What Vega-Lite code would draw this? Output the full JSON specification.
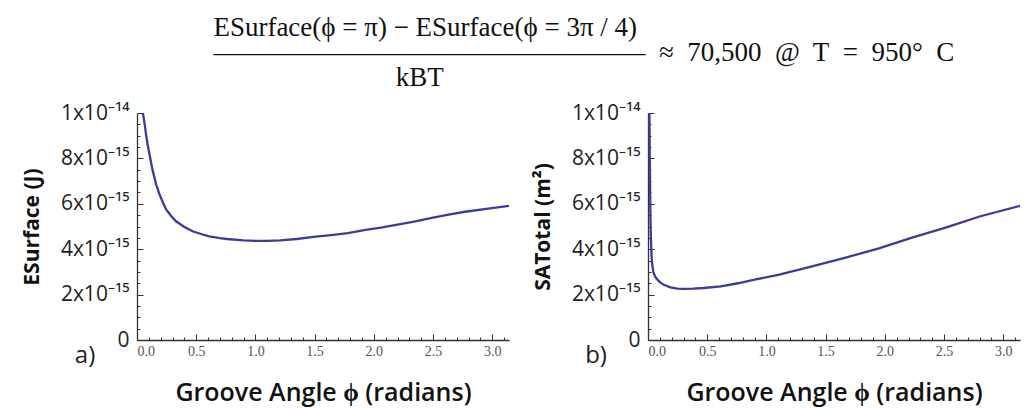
{
  "$schema": "https://vega.github.io/schema/vega-lite/v6.json",
  "background": "white",
  "padding": {"left": 21, "top": 14, "right": 4, "bottom": 2},
  "spacing": 23,
  "title": {
    "text": [
      "ESurface(ϕ = π) − ESurface(ϕ = 3π / 4)",
      "————————————————\u00a0 ≈\u00a0 70,500\u00a0 @\u00a0 T\u00a0 =\u00a0 950°\u00a0 C",
      "\u200b\u00a0\u00a0\u00a0\u00a0\u00a0\u00a0\u00a0\u00a0\u00a0\u00a0\u00a0\u00a0\u00a0\u00a0\u00a0\u00a0\u00a0\u00a0\u00a0\u00a0\u00a0\u00a0\u00a0\u00a0\u00a0\u00a0\u00a0kBT"
    ],
    "font": "Liberation Serif",
    "fontSize": 27,
    "fontWeight": "normal",
    "color": "#111",
    "anchor": "start",
    "frame": "bounds",
    "dx": 192,
    "lineHeight": 25,
    "offset": 10
  },
  "datasets": {
    "surface": [
      {"phi": 0.05, "E": 1.0e-14},
      {"phi": 0.065, "E": 9.5e-15},
      {"phi": 0.076, "E": 9.07e-15},
      {"phi": 0.09, "E": 8.6e-15},
      {"phi": 0.105, "E": 8.19e-15},
      {"phi": 0.12, "E": 7.8e-15},
      {"phi": 0.133, "E": 7.45e-15},
      {"phi": 0.15, "E": 7.1e-15},
      {"phi": 0.161, "E": 6.86e-15},
      {"phi": 0.19, "E": 6.42e-15},
      {"phi": 0.22, "E": 6.05e-15},
      {"phi": 0.246, "E": 5.75e-15},
      {"phi": 0.29, "E": 5.45e-15},
      {"phi": 0.33, "E": 5.23e-15},
      {"phi": 0.4, "E": 4.98e-15},
      {"phi": 0.47, "E": 4.79e-15},
      {"phi": 0.54, "E": 4.67e-15},
      {"phi": 0.61, "E": 4.57e-15},
      {"phi": 0.7, "E": 4.49e-15},
      {"phi": 0.76, "E": 4.45e-15},
      {"phi": 0.9, "E": 4.39e-15},
      {"phi": 1.0, "E": 4.37e-15},
      {"phi": 1.1, "E": 4.37e-15},
      {"phi": 1.21, "E": 4.39e-15},
      {"phi": 1.35, "E": 4.45e-15},
      {"phi": 1.49, "E": 4.54e-15},
      {"phi": 1.64, "E": 4.62e-15},
      {"phi": 1.78, "E": 4.71e-15},
      {"phi": 1.93, "E": 4.85e-15},
      {"phi": 2.06, "E": 4.95e-15},
      {"phi": 2.2, "E": 5.08e-15},
      {"phi": 2.34, "E": 5.22e-15},
      {"phi": 2.49, "E": 5.38e-15},
      {"phi": 2.63, "E": 5.52e-15},
      {"phi": 2.77, "E": 5.65e-15},
      {"phi": 2.95, "E": 5.78e-15},
      {"phi": 3.1416, "E": 5.91e-15}
    ],
    "area": [
      {"phi": 0.012, "SA": 1.0e-14},
      {"phi": 0.015, "SA": 8.0e-15},
      {"phi": 0.018, "SA": 6.5e-15},
      {"phi": 0.021, "SA": 5.3e-15},
      {"phi": 0.025, "SA": 4.4e-15},
      {"phi": 0.03, "SA": 3.7e-15},
      {"phi": 0.036, "SA": 3.3e-15},
      {"phi": 0.045, "SA": 3.0e-15},
      {"phi": 0.06, "SA": 2.8e-15},
      {"phi": 0.076, "SA": 2.68e-15},
      {"phi": 0.1, "SA": 2.55e-15},
      {"phi": 0.133, "SA": 2.43e-15},
      {"phi": 0.19, "SA": 2.32e-15},
      {"phi": 0.246, "SA": 2.26e-15},
      {"phi": 0.3, "SA": 2.25e-15},
      {"phi": 0.38, "SA": 2.26e-15},
      {"phi": 0.47, "SA": 2.29e-15},
      {"phi": 0.615, "SA": 2.36e-15},
      {"phi": 0.76, "SA": 2.5e-15},
      {"phi": 0.9, "SA": 2.66e-15},
      {"phi": 1.1, "SA": 2.87e-15},
      {"phi": 1.385, "SA": 3.24e-15},
      {"phi": 1.67, "SA": 3.63e-15},
      {"phi": 1.95, "SA": 4.04e-15},
      {"phi": 2.23, "SA": 4.51e-15},
      {"phi": 2.52, "SA": 4.96e-15},
      {"phi": 2.8, "SA": 5.44e-15},
      {"phi": 3.1416, "SA": 5.91e-15}
    ]
  },
  "config": {
    "view": {"stroke": null},
    "axis": {
      "domainColor": "#333",
      "domainWidth": 1.3,
      "tickColor": "#333",
      "grid": false
    }
  },
  "hconcat": [
    {
      "width": 372,
      "height": 227,
      "layer": [
        {
          "data": {"name": "surface"},
          "mark": {"type": "line", "opacity": 0},
          "encoding": {
            "x": {"field": "phi", "type": "quantitative", "scale": {"domain": [0, 3.1416], "nice": false, "zero": false},
                  "axis": {"orient": "bottom", "values": [0.1,0.2,0.3,0.4,0.6,0.7,0.8,0.9,1.1,1.2,1.3,1.4,1.6,1.7,1.8,1.9,2.1,2.2,2.3,2.4,2.6,2.7,2.8,2.9,3.1], "labels": false, "domain": false, "tickSize": -3, "title": null}},
            "y": {"field": "E", "type": "quantitative", "scale": {"domain": [0, 1e-14], "nice": false},
                  "axis": {"orient": "left", "values": [5e-16,1e-15,1.5e-15,2.5e-15,3e-15,3.5e-15,4.5e-15,5e-15,5.5e-15,6.5e-15,7e-15,7.5e-15,8.5e-15,9e-15,9.5e-15], "labels": false, "domain": false, "tickSize": -3, "title": null}}
          }
        },
        {
          "data": {"name": "surface"},
          "mark": {"type": "line", "color": "#3b3b9e", "strokeWidth": 2.3, "clip": true},
          "encoding": {
            "x": {"field": "phi", "type": "quantitative",
                  "axis": {"orient": "bottom", "values": [0, 0.5, 1, 1.5, 2, 2.5, 3], "format": ".1f", "tickSize": -6, "labelPadding": 10,
                           "labelFont": "Liberation Serif", "labelFontSize": 14, "labelColor": "#555",
                           "title": "Groove Angle ϕ (radians)", "titleFont": "Open Sans", "titleFontSize": 25, "titleFontWeight": 600, "titleColor": "#111", "titlePadding": 22}},
            "y": {"field": "E", "type": "quantitative",
                  "axis": {"orient": "left", "values": [0, 2e-15, 4e-15, 6e-15, 8e-15, 1e-14], "tickSize": -6, "labelPadding": 14,
                           "labelExpr": "datum.value == 0 ? '0' : datum.value > 9e-15 ? '1x10⁻¹⁴' : round(datum.value * 1e15) + 'x10⁻¹⁵'",
                           "labelFont": "Open Sans", "labelFontSize": 21, "labelColor": "#222",
                           "title": "ESurface (J)", "titleFont": "Open Sans", "titleFontSize": 21, "titleFontWeight": "bold", "titleColor": "#111", "titlePadding": 18}}
          }
        },
        {
          "data": {"values": [{"label": "a)"}]},
          "mark": {"type": "text", "dx": -52, "dy": 16, "font": "Open Sans", "fontSize": 24, "color": "#222"},
          "encoding": {
            "text": {"field": "label"},
            "x": {"datum": 0, "axis": null},
            "y": {"datum": 0, "axis": null}
          }
        }
      ],
      "resolve": {"axis": {"x": "independent", "y": "independent"}}
    },
    {
      "width": 372,
      "height": 227,
      "layer": [
        {
          "data": {"name": "area"},
          "mark": {"type": "line", "opacity": 0},
          "encoding": {
            "x": {"field": "phi", "type": "quantitative", "scale": {"domain": [0, 3.1416], "nice": false, "zero": false},
                  "axis": {"orient": "bottom", "values": [0.1,0.2,0.3,0.4,0.6,0.7,0.8,0.9,1.1,1.2,1.3,1.4,1.6,1.7,1.8,1.9,2.1,2.2,2.3,2.4,2.6,2.7,2.8,2.9,3.1], "labels": false, "domain": false, "tickSize": -3, "title": null}},
            "y": {"field": "SA", "type": "quantitative", "scale": {"domain": [0, 1e-14], "nice": false},
                  "axis": {"orient": "left", "values": [5e-16,1e-15,1.5e-15,2.5e-15,3e-15,3.5e-15,4.5e-15,5e-15,5.5e-15,6.5e-15,7e-15,7.5e-15,8.5e-15,9e-15,9.5e-15], "labels": false, "domain": false, "tickSize": -3, "title": null}}
          }
        },
        {
          "data": {"name": "area"},
          "mark": {"type": "line", "color": "#3b3b9e", "strokeWidth": 2.3, "clip": true},
          "encoding": {
            "x": {"field": "phi", "type": "quantitative",
                  "axis": {"orient": "bottom", "values": [0, 0.5, 1, 1.5, 2, 2.5, 3], "format": ".1f", "tickSize": -6, "labelPadding": 10,
                           "labelFont": "Liberation Serif", "labelFontSize": 14, "labelColor": "#555",
                           "title": "Groove Angle ϕ (radians)", "titleFont": "Open Sans", "titleFontSize": 25, "titleFontWeight": 600, "titleColor": "#111", "titlePadding": 22}},
            "y": {"field": "SA", "type": "quantitative",
                  "axis": {"orient": "left", "values": [0, 2e-15, 4e-15, 6e-15, 8e-15, 1e-14], "tickSize": -6, "labelPadding": 14,
                           "labelExpr": "datum.value == 0 ? '0' : datum.value > 9e-15 ? '1x10⁻¹⁴' : round(datum.value * 1e15) + 'x10⁻¹⁵'",
                           "labelFont": "Open Sans", "labelFontSize": 21, "labelColor": "#222",
                           "title": "SATotal (m²)", "titleFont": "Open Sans", "titleFontSize": 21, "titleFontWeight": "bold", "titleColor": "#111", "titlePadding": 18}}
          }
        },
        {
          "data": {"values": [{"label": "b)"}]},
          "mark": {"type": "text", "dx": -52, "dy": 16, "font": "Open Sans", "fontSize": 24, "color": "#222"},
          "encoding": {
            "text": {"field": "label"},
            "x": {"datum": 0, "axis": null},
            "y": {"datum": 0, "axis": null}
          }
        }
      ],
      "resolve": {"axis": {"x": "independent", "y": "independent"}}
    }
  ]
}
